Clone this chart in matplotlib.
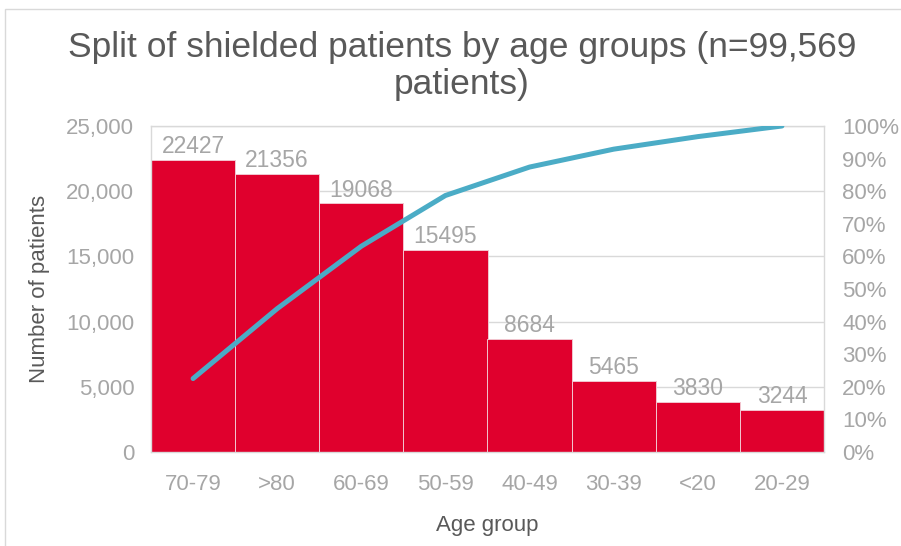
import matplotlib
matplotlib.use("Agg")
import matplotlib.pyplot as plt
import numpy as np
from matplotlib.ticker import FuncFormatter, MultipleLocator
from matplotlib.patches import Rectangle

plt.rcParams['font.family'] = ['Liberation Sans', 'DejaVu Sans']

age_groups = ["70-79", ">80", "60-69", "50-59", "40-49", "30-39", "<20", "20-29"]
patients = [22427, 21356, 19068, 15495, 8684, 5465, 3830, 3244]

total = sum(patients)
cum_pct = np.cumsum(patients) / total * 100

BAR = "#E0002D"
LINE = "#4BACC6"
GRID = "#D9D9D9"
TICK = "#A6A6A6"
DARK = "#595959"

fig = plt.figure(figsize=(9.01, 5.46), dpi=100)
fig.patches.append(Rectangle((5 / 901, -0.01), 1.0, 1 - 9 / 546 + 0.01,
                             transform=fig.transFigure, fill=False,
                             edgecolor="#D9D9D9", linewidth=1))

ax = fig.add_axes([151 / 901, 1 - 452 / 546, (824 - 151) / 901, (452 - 126) / 546])
x = np.arange(len(age_groups))
ax.bar(x, patients, width=1.0, color=BAR, edgecolor="#F2C6CF", linewidth=0.7, zorder=2)
ax.set_xlim(-0.5, len(age_groups) - 0.5)
ax.set_ylim(0, 25000)
ax.yaxis.set_major_locator(MultipleLocator(5000))
ax.yaxis.set_major_formatter(FuncFormatter(lambda v, p: f"{int(v):,}"))
ax.set_xticks(x)
ax.set_xticklabels(age_groups)
ax.grid(axis="y", color=GRID, linewidth=1, zorder=0)
ax.set_axisbelow(True)
for s in ax.spines.values():
    s.set_color(GRID)
    s.set_linewidth(1)
ax.tick_params(axis="both", length=0, colors=TICK, labelsize=16)
ax.tick_params(axis="x", pad=16)
ax.tick_params(axis="y", pad=12)
ax.set_xlabel("Age group", color=DARK, fontsize=16, labelpad=14)
ax.set_ylabel("Number of patients", color=DARK, fontsize=16, labelpad=12)

for xi, v in zip(x, patients):
    ax.text(xi, v + 120, str(v), ha="center", va="bottom", color=TICK, fontsize=16.5, zorder=3)

ax2 = ax.twinx()
ax2.plot(x, cum_pct, color=LINE, linewidth=3.6, solid_capstyle="round", zorder=4)
ax2.set_ylim(0, 100)
ax2.yaxis.set_major_locator(MultipleLocator(10))
ax2.yaxis.set_major_formatter(FuncFormatter(lambda v, p: f"{int(v)}%"))
ax2.tick_params(axis="y", length=0, colors=TICK, labelsize=16, pad=13)
for s in ax2.spines.values():
    s.set_visible(False)

fig.text(462 / 901, 1 - 66 / 546, "Split of shielded patients by age groups (n=99,569\npatients)",
         ha="center", va="center", color=DARK, fontsize=25.5, linespacing=1.17)

fig.savefig("out.png", dpi=100)
